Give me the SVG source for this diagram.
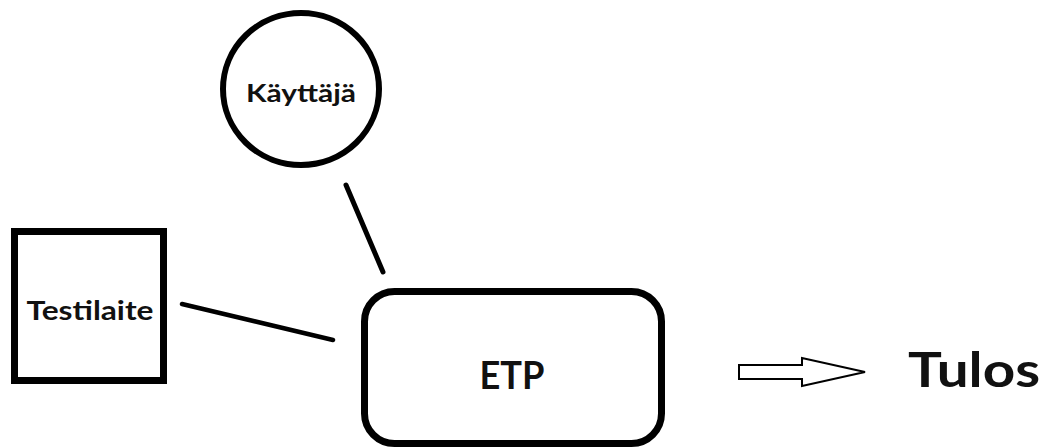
<svg xmlns="http://www.w3.org/2000/svg" width="1049" height="448" viewBox="0 0 1049 448">
<style>
.shape{fill:#fff;stroke:#000}
.lbl{font-family:Lato,"Open Sans","Liberation Sans",sans-serif;font-weight:700;fill:#111;text-anchor:middle}
.conn{stroke:#000;stroke-linecap:round;fill:none}
</style>
<rect width="1049" height="448" fill="#fff"/>
<g id="connectors">
<line class="conn" x1="346" y1="185" x2="383" y2="272" stroke-width="5"/>
<line class="conn" x1="182" y1="304" x2="333" y2="340" stroke-width="4.5"/>
<polygon id="arrow" points="739,365 802,365 802,358 865,372 802,386 802,379 739,379" fill="#fff" stroke="#000" stroke-width="2"/>
</g>
<g id="kayttaja">
<ellipse class="shape" cx="301" cy="89" rx="78" ry="76" stroke-width="6"/>
<text class="lbl" x="301" y="102" font-size="25" textLength="110" lengthAdjust="spacingAndGlyphs">Käyttäjä</text>
</g>
<g id="testilaite">
<rect class="shape" x="14.5" y="231.5" width="149" height="149" stroke-width="7"/>
<text class="lbl" x="90" y="320" font-size="26" textLength="127" lengthAdjust="spacingAndGlyphs">Testilaite</text>
</g>
<g id="etp">
<rect class="shape" x="364.5" y="291.5" width="297" height="152" rx="30" ry="30" stroke-width="7"/>
<text class="lbl" x="512" y="389" font-size="39" textLength="65" lengthAdjust="spacingAndGlyphs">ETP</text>
</g>
<g id="tulos">
<text class="lbl" x="974" y="387" font-size="48" textLength="132" lengthAdjust="spacingAndGlyphs">Tulos</text>
</g>
</svg>
